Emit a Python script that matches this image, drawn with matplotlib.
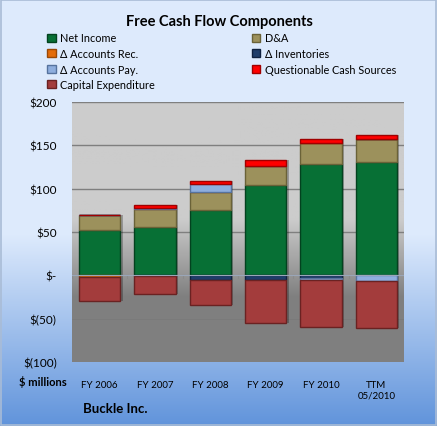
import numpy as np
import matplotlib
matplotlib.use("Agg")
from matplotlib import pyplot as plt
from matplotlib.patches import Patch, Rectangle

plt.rcParams['font.family'] = ['Lato', 'DejaVu Sans']

years = ["FY 2006", "FY 2007", "FY 2008", "FY 2009", "FY 2010", "TTM\n05/2010"]
net_income = [52, 55.5, 75, 104.5, 128, 131]
d_and_a = [17.5, 20.5, 21.5, 22, 24.5, 26]
d_rec = [-1.5, 0, 0, 0, 0, 0]
d_inv = [0, -0.5, -5, -5, -2.5, 0]
d_pay = [0, 2, 9, 0, -3, -7]
questionable = [0, 3, 3, 7, 4.5, 5]
capex = [-28.5, -21.5, -29, -49.5, -54, -53.5]

series = [
    ("Net Income", net_income, "#077035", "#03421f"),
    ("D&A", d_and_a, "#9c915c", "#6a6238"),
    ("\u0394 Accounts Rec.", d_rec, "#e46c0a", "#9a4806"),
    ("\u0394 Inventories", d_inv, "#1f3d6a", "#0f2140"),
    ("\u0394 Accounts Pay.", d_pay, "#8eaede", "#56739e"),
    ("Questionable Cash Sources", questionable, "#ff0000", "#a00000"),
    ("Capital Expenditure", capex, "#a33c3c", "#6a2222"),
]

W, H = 437, 427
fig = plt.figure(figsize=(W / 100, H / 100), dpi=100)

# background gradient
bg = fig.add_axes([0, 0, 1, 1], zorder=-10)
grad = np.linspace(0, 1, 256).reshape(-1, 1)
top = np.array([0.87, 0.92, 0.99])
bot = np.array([0.38, 0.58, 0.86])
w = np.clip((grad - 0.55) / 0.45, 0, 1)
img = top * (1 - w) + bot * w
img = img.reshape(256, 1, 3)
bg.imshow(img, aspect="auto", extent=[0, 1, 0, 1], origin="upper")
bg.add_patch(Rectangle((0.002, 0.002), 0.995, 0.995, fill=False, edgecolor="#a9bcd6", lw=1.2))
bg.set_xlim(0, 1)
bg.set_ylim(0, 1)
bg.axis("off")

ax = fig.add_axes([72 / W, 1 - 363 / H, 332 / W, 260 / H])
x = np.arange(len(years))
ax.set_xlim(-0.5, len(years) - 0.5)
ax.set_ylim(-100, 200)

pg = np.linspace(0, 1, 256).reshape(-1, 1)
pw = np.clip((pg - 0.45) / 0.3, 0, 1)
pimg = np.array([0.80, 0.80, 0.80]) * (1 - pw) + np.array([0.50, 0.50, 0.50]) * pw
ax.imshow(pimg.reshape(256, 1, 3), aspect="auto", extent=[-0.5, len(years) - 0.5, -100, 200],
          origin="upper", zorder=0)

for yv in [50, 100, 150, 200]:
    ax.axhline(yv, color="#7f7f7f", lw=1, zorder=1)
ax.axhline(-50, color="#7a7a7a", lw=0.6, zorder=1)

pos_base = np.zeros(len(years))
neg_base = np.zeros(len(years))
handles = []
for name, vals, col, ec in series:
    vals = np.array(vals, dtype=float)
    bottoms = np.where(vals >= 0, pos_base, neg_base)
    ax.bar(x + 0.04, vals, 0.75, bottom=bottoms, color="#000000", alpha=0.25, zorder=2, lw=0)
    ax.bar(x, vals, 0.75, bottom=bottoms, color=col, edgecolor=ec, lw=1.0, zorder=3)
    pos_base += np.where(vals >= 0, vals, 0)
    neg_base += np.where(vals < 0, vals, 0)
    handles.append(Patch(facecolor=col, edgecolor=ec, label=name))

ax.axhline(0, color="#9aa6b8", lw=0.8, zorder=4)
for xv in np.arange(-0.5, len(years), 1):
    ax.plot([xv, xv], [0, -3], color="#8a8a8a", lw=0.8, zorder=1)

ax.set_yticks([200, 150, 100, 50, 0, -50, -100])
ax.set_yticklabels(["$200", "$150", "$100", "$50", "$-", "$(50)", "$(100)"], fontsize=8.5)
ax.set_xticks(x)
ax.set_xticklabels(years, fontsize=7)
ax.tick_params(length=0)
ax.tick_params(axis="y", pad=11)
ax.tick_params(axis="x", pad=13)
for s in ax.spines.values():
    s.set_visible(False)

fig.text(219 / W, 1 - 22 / H, "Free Cash Flow Components", ha="center", va="center",
         fontsize=10.5, fontweight="bold")
order = [0, 2, 4, 6, 1, 3, 5]
fig.legend([handles[i] for i in order], [series[i][0] for i in order], ncol=2,
           loc="upper left", bbox_to_anchor=(42 / W, 1 - 28 / H), frameon=False,
           fontsize=7.8, handlelength=0.8, handleheight=0.8, handletextpad=0.4,
           columnspacing=8.9, labelspacing=0.42, borderpad=0)

fig.text(43 / W, 1 - 382 / H, "$ millions", ha="center", va="center", fontsize=8, fontweight="bold")
fig.text(83 / W, 1 - 409 / H, "Buckle Inc.", ha="left", va="center", fontsize=9.5, fontweight="bold")

fig.savefig("out.png", dpi=100)
